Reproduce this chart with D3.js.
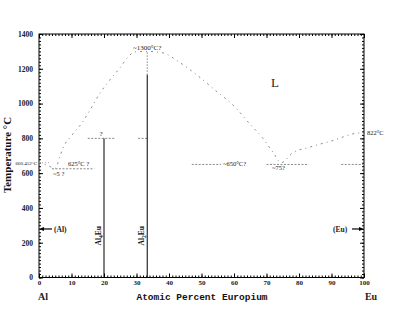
<!DOCTYPE html>
<html><head><meta charset="utf-8">
<script src="https://cdn.jsdelivr.net/npm/d3@7"></script>
<style>body{margin:0;background:#fff}</style>
</head><body>
<svg id="c" width="407" height="320"></svg>
<script>
// --- data ---
const xTicks = [0,10,20,30,40,50,60,70,80,90,100];
const yTicks = [0,200,400,600,800,1000,1200,1400];
// liquidus (at.% Eu, °C)
const liqX = [0, 2.5, 5, 6.5, 7.4, 10.2, 13.2, 15.7, 18.8, 21.8, 24.9, 27.4, 29.5, 33.3, 38.2, 43, 48.6, 54, 60.3, 65, 68.6, 72, 74.5, 78, 83.4, 90, 98.8, 100];
const liqT = [660, 645, 628, 700, 745, 820, 888, 963, 1061, 1136, 1205, 1268, 1297, 1300, 1291, 1240, 1164, 1080, 980, 880, 807, 720, 660, 716, 750, 785, 831, 822];
// compounds
const compX = [20, 33.3];
const compTop = [800, 1165];
const compNames = ["Al", "Al"];
const compSub = ["4", "2"];
// dotted horizontal segments [x1,x2,T]
const dotSegX1 = [4, 15, 30.5, 47, 70, 93];
const dotSegX2 = [17, 23.5, 33.3, 56, 83, 100];
const dotSegT = [625, 800, 800, 650, 650, 650];

const svg = d3.select("#c");
const x = d3.scaleLinear().domain([0,100]).range([39,364]);
const y = d3.scaleLinear().domain([0,1400]).range([277.5,34]);

// frame
svg.append("rect").attr("x",x(0)).attr("y",y(1400)).attr("width",x(100)-x(0)).attr("height",y(0)-y(1400))
  .attr("fill","none").attr("stroke","#000").attr("stroke-width",1);

function addAxis(axis, tr){
  const g = svg.append("g").attr("transform",tr).call(axis);
  g.select(".domain").remove();
  g.selectAll("line").attr("stroke","#000");
  return g;
}
const minorX = d3.range(0,101,1), minorY = d3.range(0,1401,20);
addAxis(d3.axisBottom(x).tickValues(minorX).tickSize(-2).tickFormat(""), `translate(0,${y(0)})`);
addAxis(d3.axisTop(x).tickValues(minorX).tickSize(-2).tickFormat(""), `translate(0,${y(1400)})`);
addAxis(d3.axisLeft(y).tickValues(minorY).tickSize(-2).tickFormat(""), `translate(${x(0)},0)`);
addAxis(d3.axisRight(y).tickValues(minorY).tickSize(-2).tickFormat(""), `translate(${x(100)},0)`);
addAxis(d3.axisTop(x).tickValues(xTicks).tickSize(-4).tickFormat(""), `translate(0,${y(1400)})`);
addAxis(d3.axisRight(y).tickValues(yTicks).tickSize(-4).tickFormat(""), `translate(${x(100)},0)`);
const gx = addAxis(d3.axisBottom(x).tickValues(xTicks).tickSize(-4).tickPadding(3).tickFormat(d3.format("d")), `translate(0,${y(0)})`);
gx.selectAll("text").attr("font-family","Liberation Serif").attr("font-size",7).attr("font-weight","bold").attr("fill","#222");
const gy = addAxis(d3.axisLeft(y).tickValues(yTicks).tickSize(-4).tickPadding(6).tickFormat(d3.format("d")), `translate(${x(0)},0)`);
gy.selectAll("text").attr("font-family","Liberation Serif").attr("font-size",7.5).attr("font-weight","bold").attr("fill","#222");

// liquidus
const line = d3.line().x((d,i)=>x(liqX[i])).y((d,i)=>y(liqT[i])).curve(d3.curveMonotoneX);
svg.append("path").attr("d",line(liqX)).attr("fill","none").attr("stroke","#8a8a8a").attr("stroke-width",1)
  .attr("stroke-dasharray","2,4,1,4");
svg.append("line").attr("x1",x(0)).attr("x2",x(3)).attr("y1",y(660)).attr("y2",y(660))
  .attr("stroke","#999").attr("stroke-dasharray","1,2");

// dotted horizontals
dotSegT.forEach((t,i)=>{
  svg.append("line").attr("x1",x(dotSegX1[i])).attr("x2",x(dotSegX2[i])).attr("y1",y(t)).attr("y2",y(t))
    .attr("stroke","#888").attr("stroke-width",1).attr("stroke-dasharray","2,1.5");
});
svg.append("line").attr("x1",x(33.3)).attr("x2",x(33.3)).attr("y1",y(1165)).attr("y2",y(1300))
  .attr("stroke","#888").attr("stroke-dasharray","1.5,1.5");

// compounds
compX.forEach((c,i)=>{
  svg.append("line").attr("x1",x(c)).attr("x2",x(c)).attr("y1",y(0)).attr("y2",y(compTop[i]))
    .attr("stroke","#000").attr("stroke-width",1);
  const t = svg.append("text").attr("transform",`translate(${x(c)-3},${y(240)}) rotate(-90)`)
    .attr("text-anchor","middle").attr("font-family","Liberation Serif").attr("font-weight","bold").attr("font-size",7.5).attr("fill","#111");
  t.append("tspan").text(compNames[i]);
  t.append("tspan").text(compSub[i]).attr("font-size",5.5).attr("dy",2);
  t.append("tspan").text("Eu").attr("dy",-2);
});

function txt(s, px, py, size, opts={}){
  return svg.append("text").attr("x",px).attr("y",py).text(s)
    .attr("font-family",opts.family||"Liberation Serif").attr("font-size",size)
    .attr("font-weight",opts.weight||"normal").attr("fill",opts.fill||"#222")
    .attr("text-anchor",opts.anchor||"start");
}
txt("~1300°C?", x(33.3), 50, 7, {anchor:"middle"});
txt("?", 101, 136, 7, {anchor:"middle"});
txt("660.452°C", 37, 165, 5, {anchor:"end"});
txt("625°C ?", 68, 166, 6.5);
txt("~5 ?", 53, 176, 6.5);
txt("~650°C?", 223, 166, 6.5);
txt("~75?", 272, 170, 6.5);
txt("822°C", 367, 135, 6.5);
txt("L", 275, 87, 13, {anchor:"middle"});
txt("(Al)", 54, 232, 7.5, {weight:"bold"});
txt("(Eu)", 333, 232, 7.5, {weight:"bold"});
svg.append("line").attr("x1",x(0)+3).attr("x2",52).attr("y1",y(279)).attr("y2",y(279)).attr("stroke","#000").attr("stroke-width",1.2);
svg.append("path").attr("d",`M${x(0)},${y(279)} l5,-2 l0,4 z`).attr("fill","#000");
svg.append("line").attr("x1",352).attr("x2",x(100)-3).attr("y1",y(279)).attr("y2",y(279)).attr("stroke","#000").attr("stroke-width",1.2);
svg.append("path").attr("d",`M${x(100)},${y(279)} l-5,-2 l0,4 z`).attr("fill","#000");

txt("Al", 43, 300, 10, {weight:"bold", anchor:"middle"});
txt("Eu", 371, 300, 10, {weight:"bold", anchor:"middle"});
txt("Atomic Percent Europium", 202, 300, 9.5, {family:"Liberation Mono", weight:"bold", anchor:"middle", fill:"#111"});
svg.append("text").attr("transform","translate(11,155) rotate(-90)").attr("text-anchor","middle")
  .attr("font-family","Liberation Serif").attr("font-weight","bold").attr("font-size",11).attr("fill","#111")
  .text("Temperature °C");
</script>
</body></html>
